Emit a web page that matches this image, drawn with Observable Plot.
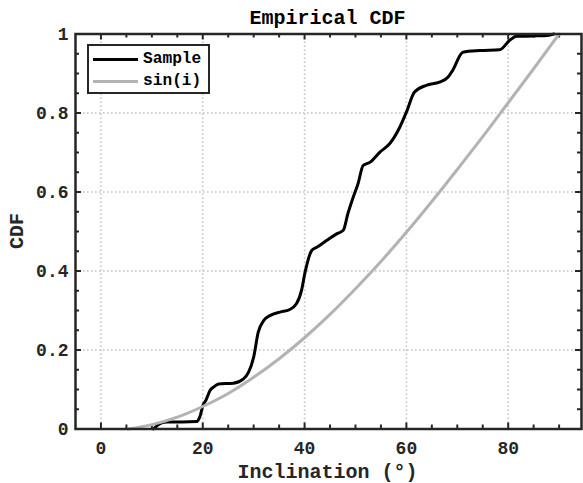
<!DOCTYPE html>
<html>
<head>
<meta charset="utf-8">
<script src="https://cdn.jsdelivr.net/npm/d3@7"></script>
<script src="https://cdn.jsdelivr.net/npm/@observablehq/plot@0.6"></script>
<style>
  html, body { margin: 0; padding: 0; background: #fff; }
  #wrap { position: relative; width: 583px; height: 483px; overflow: hidden;
          font-family: 'Liberation Mono', 'Courier New', monospace; font-weight: bold; color: #262626; }
  #chart { position: absolute; left: 0; top: 0; }
  .txt { position: absolute; white-space: nowrap; line-height: 1; }
  #title { left: 327.5px; top: 8.7px; font-size: 20px; transform: translateX(-50%); color: #000; }
  #xlabel { left: 327.5px; top: 462.7px; font-size: 20px; transform: translateX(-50%); }
  #ylabel { left: 18px; top: 231px; font-size: 20px; transform: translate(-50%, -50%) rotate(-90deg); }
  #legend { position: absolute; left: 87px; top: 44px; width: 119px; height: 46px;
            border: 2px solid #262626; background: #fff; }
  .row { position: absolute; left: 0; height: 20px; display: flex; align-items: center; }
  .sw { display: inline-block; width: 45px; height: 3px; margin-left: 4px; margin-right: 5px; }
  .lt { font-size: 16.2px; line-height: 1; color: #000; }
</style>
</head>
<body>
<div id="wrap">
  <div id="chart"></div>
  <div id="title" class="txt">Empirical CDF</div>
  <div id="xlabel" class="txt">Inclination (°)</div>
  <div id="ylabel" class="txt">CDF</div>
  <div id="legend"></div>
</div>
<script>
// ---- data ----
const sampleX = [10.3, 11.0, 11.8, 13.0, 16.0, 18.8, 19.4, 20.1, 20.6, 21.4, 22.1, 23.1, 26.0, 28.0, 29.0, 30.0, 30.9,
                 32.0, 33.2, 35.2, 37.0, 38.4, 39.4, 40.1, 41.4, 42.4, 44.3, 46.3, 47.6, 48.5, 49.5, 50.5, 51.5, 52.8,
                 54.8, 56.7, 58.7, 60.0, 61.6, 63.9, 66.5, 68.2, 69.1, 71.1, 74.4, 78.3, 80.3, 81.6, 85.0, 88.0, 89.0];
const sampleY = [0.000, 0.008, 0.015, 0.018, 0.018, 0.019, 0.030, 0.062, 0.072, 0.097, 0.106, 0.114, 0.116, 0.127, 0.144, 0.182, 0.245,
                 0.275, 0.287, 0.296, 0.302, 0.317, 0.351, 0.397, 0.452, 0.460, 0.477, 0.494, 0.503, 0.545, 0.585, 0.621, 0.667, 0.675,
                 0.701, 0.722, 0.764, 0.802, 0.853, 0.870, 0.878, 0.891, 0.908, 0.954, 0.958, 0.960, 0.984, 0.994, 0.995, 0.997, 1.000];
const sinX = [5.3, 10, 15, 20, 25, 30, 35, 40, 45, 50, 55, 60, 65, 70, 75, 80, 85, 90];
const sinY = [0.000, 0.011, 0.030, 0.057, 0.090, 0.131, 0.178, 0.231, 0.290, 0.355, 0.424, 0.498, 0.576, 0.657, 0.740, 0.826, 0.912, 1.000];
const xMajor = [0, 20, 40, 60, 80];
const xMinor = [5, 10, 15, 25, 30, 35, 45, 50, 55, 65, 70, 75, 85, 90];
const yMajor = [0, 0.2, 0.4, 0.6, 0.8, 1];
const yTickLabels = ["0", "0.2", "0.4", "0.6", "0.8", "1"];
const yMinor = [0.05, 0.1, 0.15, 0.25, 0.3, 0.35, 0.45, 0.5, 0.55, 0.65, 0.7, 0.75, 0.85, 0.9, 0.95];
const seriesNames = ["Sample", "sin(i)"];
const seriesColors = ["#000000", "#b3b3b3"];

const sample = sampleX.map((x, i) => ({x, y: sampleY[i]}));
const sinCdf = sinX.map((x, i) => ({x, y: sinY[i]}));

const W = 583, H = 483, mL = 75, mR = 2, mT = 33.5, mB = 54.5;
const PH = H - mT - mB, PW = W - mL - mR;
const axisColor = "#262626";
const majLen = 6, minLen = 4;

const chart = Plot.plot({
  width: W, height: H,
  marginLeft: mL, marginRight: mR, marginTop: mT, marginBottom: mB,
  x: {domain: [-5, 94.4]},
  y: {domain: [0, 1]},
  style: {fontFamily: "'Liberation Mono', 'Courier New', monospace", fontSize: "18px", fontWeight: "bold", color: axisColor, background: "#fff"},
  marks: [
    Plot.gridX(xMajor, {stroke: "#c4c4c4", strokeOpacity: 1, strokeWidth: 1.6, strokeDasharray: "1.6,2.4"}),
    Plot.gridY(yMajor, {stroke: "#c4c4c4", strokeOpacity: 1, strokeWidth: 1.6, strokeDasharray: "1.6,2.4"}),
    Plot.axisX({ticks: xMajor, tickSize: 0, tickPadding: 12, label: null, tickFormat: d => String(d)}),
    Plot.axisY({ticks: yMajor, tickSize: 0, tickPadding: 7, label: null, tickFormat: d => yTickLabels[yMajor.indexOf(d)]}),
    // inward ticks (bottom / top)
    Plot.tickX(xMajor, {x: d => d, insetTop: PH - majLen, stroke: axisColor, strokeWidth: 2}),
    Plot.tickX(xMinor, {x: d => d, insetTop: PH - minLen, stroke: axisColor, strokeWidth: 2}),
    Plot.tickX(xMajor, {x: d => d, insetBottom: PH - majLen, stroke: axisColor, strokeWidth: 2}),
    Plot.tickX(xMinor, {x: d => d, insetBottom: PH - minLen, stroke: axisColor, strokeWidth: 2}),
    // inward ticks (left / right)
    Plot.tickY(yMajor, {y: d => d, insetRight: PW - majLen, stroke: axisColor, strokeWidth: 2}),
    Plot.tickY(yMinor, {y: d => d, insetRight: PW - minLen, stroke: axisColor, strokeWidth: 2}),
    Plot.tickY(yMajor, {y: d => d, insetLeft: PW - majLen, stroke: axisColor, strokeWidth: 2}),
    Plot.tickY(yMinor, {y: d => d, insetLeft: PW - minLen, stroke: axisColor, strokeWidth: 2}),
    Plot.line(sample, {x: "x", y: "y", stroke: seriesColors[0], strokeWidth: 3, curve: "monotone-x", clip: false}),
    Plot.line(sinCdf, {x: "x", y: "y", stroke: seriesColors[1], strokeWidth: 3, curve: "monotone-x", clip: false}),
    Plot.frame({stroke: axisColor, strokeWidth: 2.5})
  ]
});
document.getElementById("chart").appendChild(chart);

// legend
const leg = document.getElementById("legend");
seriesNames.forEach((name, i) => {
  const row = document.createElement("div");
  row.className = "row";
  row.style.top = (i === 0 ? 3.3 : 25) + "px";
  const sw = document.createElement("span");
  sw.className = "sw";
  sw.style.background = seriesColors[i];
  const t = document.createElement("span");
  t.className = "lt";
  t.textContent = name;
  row.appendChild(sw); row.appendChild(t);
  leg.appendChild(row);
});
</script>
</body>
</html>
